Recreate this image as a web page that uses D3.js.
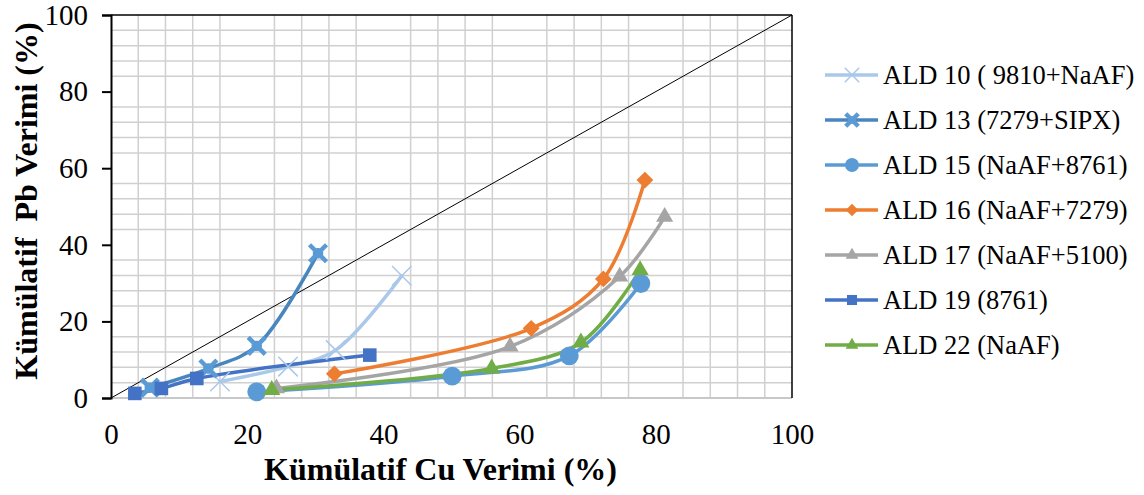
<!DOCTYPE html>
<html>
<head>
<meta charset="utf-8">
<script src="https://cdn.jsdelivr.net/npm/d3@7"></script>
<style>
  body { margin: 0; background: #fff; }
</style>
</head>
<body>
<div id="chart"></div>
<script>
// series names and values (Cu recovery x, Pb recovery y)
var seriesNames = ["ALD 10 ( 9810+NaAF)", "ALD 13 (7279+SIPX)", "ALD 15 (NaAF+8761)",
  "ALD 16 (NaAF+7279)", "ALD 17 (NaAF+5100)", "ALD 19 (8761)", "ALD 22 (NaAF)"];
var ald10 = [[16.0, 4.3], [26.0, 8.2], [33.0, 12.5], [42.7, 31.9]];
var ald13 = [[5.7, 2.7], [14.3, 7.7], [21.4, 13.6], [30.4, 37.8]];
var ald15 = [[21.4, 1.6], [50.1, 5.7], [67.3, 11.0], [77.8, 29.9]];
var ald16 = [[32.8, 6.3], [61.7, 18.2], [72.3, 31.1], [78.4, 56.9]];
var ald17 = [[24.3, 2.5], [58.6, 13.4], [74.7, 31.7], [81.3, 47.3]];
var ald19 = [[3.5, 1.2], [7.4, 2.5], [12.6, 5.1], [38.0, 11.2]];
var ald22 = [[23.6, 2.1], [55.9, 7.7], [69.0, 14.5], [77.7, 33.4]];
var xTicks = [0, 20, 40, 60, 80, 100];
var yTicks = [0, 20, 40, 60, 80, 100];

var seriesData = [ald10, ald13, ald15, ald16, ald17, ald19, ald22];
var lineColors = ["#A9C8EA", "#4A86BE", "#5B9BD5", "#ED7D31", "#A5A5A5", "#4472C4", "#70AD47"];
var markerColors = ["#A9C8EA", "#5B9BD5", "#5B9BD5", "#ED7D31", "#A5A5A5", "#4472C4", "#70AD47"];
var markerTypes = ["x", "star", "circle", "diamond", "triangle", "square", "triangle"];

var serif = "Liberation Serif";

var margin = {top: 15, right: 352, bottom: 97, left: 111},
    width = 1144 - margin.left - margin.right,
    height = 495 - margin.top - margin.bottom;

var root = d3.select("#chart")
  .append("svg")
    .attr("width", 1144)
    .attr("height", 495)
    .attr("font-family", serif);
var svg = root.append("g")
    .attr("transform", "translate(" + margin.left + "," + margin.top + ")");

var x = d3.scaleLinear().domain([0, 100]).range([0, width]);
var y = d3.scaleLinear().domain([0, 100]).range([height, 0]);

// minor gridlines every 4, skipping the major positions
var minor = d3.range(4, 100, 4).filter(function(v) { return v % 20 !== 0; });
svg.append("g").selectAll("line")
  .data(minor).enter().append("line")
    .attr("x1", function(d) { return x(d); }).attr("x2", function(d) { return x(d); })
    .attr("y1", 0).attr("y2", height)
    .attr("stroke", "#d0d0d0").attr("stroke-width", 1.5);
svg.append("g").selectAll("line")
  .data(minor).enter().append("line")
    .attr("y1", function(d) { return y(d); }).attr("y2", function(d) { return y(d); })
    .attr("x1", 0).attr("x2", width)
    .attr("stroke", "#d0d0d0").attr("stroke-width", 1.5);

// border: gray bottom, black top and right
svg.append("line").attr("x1", 0).attr("x2", width).attr("y1", height).attr("y2", height)
  .attr("stroke", "#c8c8c8").attr("stroke-width", 2);
svg.append("line").attr("x1", 0).attr("x2", width).attr("y1", 0).attr("y2", 0)
  .attr("stroke", "#000").attr("stroke-width", 1.5);
svg.append("line").attr("x1", width).attr("x2", width).attr("y1", 0).attr("y2", height)
  .attr("stroke", "#000").attr("stroke-width", 1.5);

// X axis (labels only)
var xAxis = svg.append("g")
  .attr("transform", "translate(0," + height + ")")
  .call(d3.axisBottom(x).tickValues(xTicks).tickSize(0).tickPadding(25));
xAxis.select(".domain").remove();
xAxis.attr("font-family", serif).attr("font-size", 29);
xAxis.selectAll("text").attr("fill", "#000");

// Y axis
var yAxis = svg.append("g")
  .call(d3.axisLeft(y).tickValues(yTicks).tickSize(9).tickPadding(14));
yAxis.attr("font-family", serif).attr("font-size", 29);
yAxis.select(".domain").attr("stroke-width", 2);
yAxis.selectAll("line").attr("stroke-width", 2);
yAxis.selectAll("text").attr("fill", "#000");

// diagonal reference line
svg.append("line")
  .attr("x1", x(0)).attr("y1", y(0)).attr("x2", x(100)).attr("y2", y(100))
  .attr("stroke", "#000").attr("stroke-width", 1);

var line = d3.line()
  .x(function(d) { return x(d[0]); })
  .y(function(d) { return y(d[1]); })
  .curve(d3.curveCatmullRom.alpha(0.5));

function drawMarker(g, type, color, k) {
  if (type === "x") {
    g.append("path").attr("d", d3.symbol().type(d3.symbolX).size(250 * k))
      .attr("fill", "none").attr("stroke", color).attr("stroke-width", 1.5);
  } else if (type === "star") {
    g.append("path").attr("d", d3.symbol().type(d3.symbolX).size(190 * k))
      .attr("fill", "none").attr("stroke", color).attr("stroke-width", 4.5);
    g.append("path").attr("d", d3.symbol().type(d3.symbolCross).size(60 * k))
      .attr("fill", color);
  } else {
    var t = {circle: d3.symbolCircle, diamond: d3.symbolDiamond2, triangle: d3.symbolTriangle2,
      square: d3.symbolSquare2}[type];
    var s = {circle: 280, diamond: 180, triangle: 210, square: 235}[type];
    g.append("path").attr("d", d3.symbol().type(t).size(s * k)).attr("fill", color);
  }
}

seriesData.forEach(function(data, i) {
  svg.append("path")
    .datum(data)
    .attr("fill", "none")
    .attr("stroke", lineColors[i])
    .attr("stroke-width", 3.5)
    .attr("stroke-linecap", "round")
    .attr("d", line);
});
seriesData.forEach(function(data, i) {
  data.forEach(function(p) {
    var g = svg.append("g").attr("transform", "translate(" + x(p[0]) + "," + y(p[1]) + ")");
    drawMarker(g, markerTypes[i], markerColors[i], 1);
  });
});

// axis titles
svg.append("text")
  .attr("x", width / 2 - 11).attr("y", height + 82)
  .attr("text-anchor", "middle")
  .attr("font-size", 32).attr("font-weight", "bold")
  .text("Kümülatif Cu Verimi (%)");
svg.append("text")
  .attr("transform", "translate(" + (-74) + "," + 186 + ") rotate(-90)")
  .attr("text-anchor", "middle")
  .attr("font-size", 32).attr("font-weight", "bold")
  .style("white-space", "pre")
  .text("Kümülatif  Pb Verimi (%)");

// legend
var legend = svg.append("g").attr("transform", "translate(" + (825 - margin.left) + "," + (75 - margin.top) + ")");
seriesNames.forEach(function(name, i) {
  var row = legend.append("g").attr("transform", "translate(0," + (i * 45) + ")");
  row.append("line").attr("x1", 0).attr("x2", 53).attr("y1", 0).attr("y2", 0)
    .attr("stroke", lineColors[i]).attr("stroke-width", 3.5);
  var m = row.append("g").attr("transform", "translate(27,0)");
  drawMarker(m, markerTypes[i], markerColors[i], 0.55);
  row.append("text").attr("x", 58).attr("y", 0).attr("dy", "0.35em")
    .attr("font-size", 26.5).text(name);
});
</script>
</body>
</html>
